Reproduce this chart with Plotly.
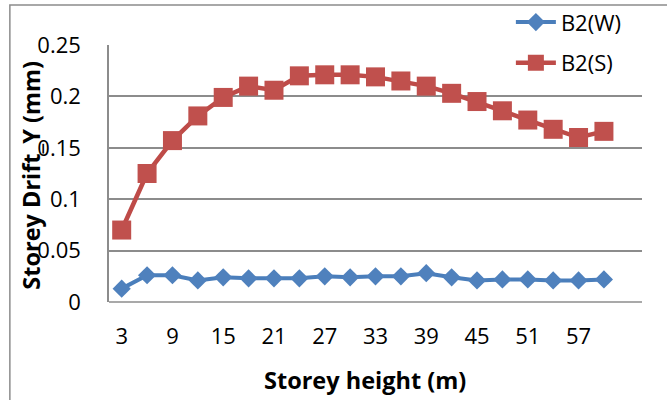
import plotly.graph_objects as go

# Storey drift data
storey_height = [3, 6, 9, 12, 15, 18, 21, 24, 27, 30, 33, 36, 39, 42, 45, 48, 51, 54, 57, 60]
drift_w = [0.013, 0.026, 0.026, 0.021, 0.024, 0.023, 0.023, 0.023, 0.025, 0.024,
           0.025, 0.025, 0.028, 0.024, 0.021, 0.022, 0.022, 0.021, 0.021, 0.022]
drift_s = [0.070, 0.125, 0.157, 0.181, 0.199, 0.210, 0.206, 0.220, 0.221, 0.221,
           0.219, 0.215, 0.210, 0.203, 0.195, 0.186, 0.177, 0.168, 0.160, 0.166]
x_ticks = [3, 9, 15, 21, 27, 33, 39, 45, 51, 57]
y_ticks = [0, 0.05, 0.1, 0.15, 0.2, 0.25]
y_tick_text = ['0', '0.05', '0.1', '0.15', '0.2', '0.25']

FONT = 'Open Sans'
blue_line, blue_mk = '#4A7EBB', '#4F81BD'
red_line, red_mk = '#BE4B48', '#C0504D'

fig = go.Figure()
fig.add_trace(go.Scatter(x=storey_height, y=drift_w, name='B2(W)', mode='lines+markers',
                         line=dict(color=blue_line, width=4), legendgroup='w',
                         marker=dict(symbol='diamond', size=14, color=blue_mk)))
fig.add_trace(go.Scatter(x=storey_height, y=drift_s, name='B2(S)', mode='lines+markers',
                         line=dict(color=red_line, width=4.5), legendgroup='s',
                         marker=dict(symbol='square', size=19, color=red_mk)))

fig.update_layout(
    width=667, height=400,
    margin=dict(l=109, r=25, t=45, b=98, autoexpand=False),
    paper_bgcolor='white', plot_bgcolor='white',
    font=dict(family=FONT, size=22, color='black'),
    showlegend=True,
    legend=dict(x=0.754, y=1.17, xanchor='left', yanchor='top', bgcolor='rgba(0,0,0,0)',
                font=dict(size=22), tracegroupgap=9, itemwidth=40),
)
fig.update_xaxes(range=[1.5, 64.5], tickvals=x_ticks, showgrid=False, zeroline=False,
                 showline=False, ticks='', ticklabelstandoff=19)
fig.update_yaxes(range=[0, 0.25], tickvals=y_ticks, ticktext=y_tick_text, showgrid=True,
                 gridcolor='#8C8C8C', gridwidth=1.5, zeroline=False,
                 showline=True, linecolor='#8C8C8C', linewidth=1.5, ticks='',
                 ticklabelstandoff=22)

# bottom axis line at 0 and chart border
fig.add_shape(type='line', xref='paper', yref='paper', x0=0, x1=1, y0=0, y1=0,
              line=dict(color='#8C8C8C', width=1.5), layer='below')
fig.add_shape(type='rect', xref='paper', yref='paper', x0=-0.186, x1=1.06, y0=-0.42, y1=1.156,
              line=dict(color='#8C8C8C', width=1.5), layer='below')

fig.add_annotation(text='<b>Storey height (m)</b>', xref='paper', yref='paper',
                   x=0.48, y=-0.303, xanchor='center', yanchor='middle',
                   showarrow=False, font=dict(size=23.5))
fig.add_annotation(text='<b>Storey Drift_Y (mm)</b>', xref='paper', yref='paper',
                   x=-0.147, y=0.494, xanchor='center', yanchor='middle', textangle=-90,
                   showarrow=False, font=dict(size=23.5))

# drop the default page margin so the figure sits at the top-left corner
fig.write_html('out.html', config={'displayModeBar': False},
               post_script="document.body.style.margin='0';")
